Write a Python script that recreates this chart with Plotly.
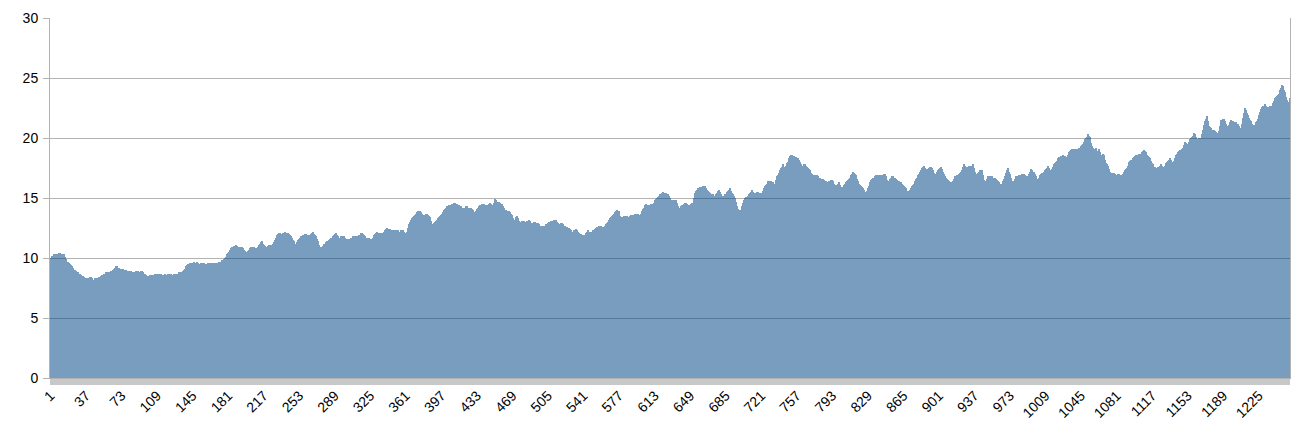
import plotly.graph_objects as go

values = [
9.8, 10.0, 10.2, 10.1, 10.3, 10.2, 10.3, 10.2, 10.3, 10.4, 10.4, 10.3, 10.2, 10.3, 10.3, 10.1, 9.9, 9.7, 9.7, 9.6,
9.5, 9.4, 9.3, 9.2, 9.0, 9.0, 8.9, 8.8, 8.8, 8.7, 8.7, 8.6, 8.5, 8.5, 8.4, 8.3, 8.2, 8.3, 8.2, 8.3,
8.4, 8.4, 8.3, 8.2, 8.2, 8.3, 8.2, 8.3, 8.3, 8.4, 8.4, 8.5, 8.6, 8.6, 8.7, 8.7, 8.8, 8.8, 8.7, 8.8,
8.8, 8.9, 8.9, 9.0, 9.1, 9.2, 9.3, 9.3, 9.2, 9.2, 9.1, 9.1, 9.0, 9.1, 9.0, 8.9, 9.0, 8.9, 8.9, 8.8,
8.9, 8.8, 8.9, 8.8, 8.7, 8.8, 8.8, 8.9, 8.8, 8.9, 8.8, 8.8, 8.9, 8.9, 8.8, 8.7, 8.7, 8.6, 8.5, 8.5,
8.5, 8.6, 8.6, 8.5, 8.6, 8.6, 8.7, 8.6, 8.7, 8.7, 8.6, 8.7, 8.7, 8.6, 8.6, 8.6, 8.7, 8.6, 8.6, 8.7,
8.7, 8.6, 8.7, 8.6, 8.6, 8.7, 8.6, 8.7, 8.7, 8.7, 8.8, 8.7, 8.8, 8.8, 8.9, 9.0, 9.1, 9.3, 9.4, 9.5,
9.5, 9.6, 9.5, 9.6, 9.6, 9.7, 9.6, 9.6, 9.7, 9.6, 9.5, 9.5, 9.6, 9.6, 9.5, 9.6, 9.6, 9.5, 9.5, 9.5,
9.6, 9.5, 9.6, 9.6, 9.6, 9.5, 9.6, 9.5, 9.6, 9.5, 9.6, 9.7, 9.7, 9.7, 9.8, 9.8, 9.9, 10.0, 10.1, 10.3,
10.4, 10.5, 10.7, 10.8, 10.9, 10.9, 11.0, 11.0, 11.1, 11.0, 10.9, 10.9, 10.9, 10.8, 10.9, 10.8, 10.7, 10.6, 10.5, 10.5,
10.6, 10.7, 10.8, 10.9, 10.9, 10.8, 10.9, 10.8, 10.7, 10.8, 10.9, 11.1, 11.2, 11.3, 11.4, 11.2, 11.1, 11.0, 10.9, 10.9,
11.0, 11.1, 11.1, 11.0, 11.1, 11.2, 11.3, 11.5, 11.7, 11.9, 12.0, 12.1, 12.1, 12.0, 12.0, 12.1, 12.0, 12.1, 12.2, 12.1,
12.0, 12.1, 12.0, 11.9, 11.8, 11.7, 11.5, 11.4, 11.2, 11.1, 11.3, 11.5, 11.6, 11.7, 11.8, 11.8, 11.9, 11.9, 12.0, 12.0,
11.9, 11.9, 11.8, 11.9, 12.0, 12.1, 12.2, 12.0, 11.9, 11.8, 11.6, 11.4, 11.1, 10.9, 10.8, 10.9, 11.0, 11.2, 11.2, 11.3,
11.4, 11.4, 11.5, 11.6, 11.7, 11.7, 11.8, 11.9, 12.0, 12.1, 11.9, 11.8, 11.7, 11.7, 11.8, 11.8, 11.7, 11.8, 11.7, 11.6,
11.6, 11.5, 11.6, 11.6, 11.7, 11.7, 11.8, 11.7, 11.8, 11.8, 11.7, 11.8, 11.9, 11.9, 12.0, 12.1, 12.1, 12.0, 11.9, 11.8,
11.7, 11.7, 11.6, 11.7, 11.6, 11.6, 11.5, 11.7, 11.9, 12.0, 12.1, 12.2, 12.1, 12.1, 12.0, 12.1, 12.0, 12.1, 12.2, 12.3,
12.4, 12.5, 12.4, 12.3, 12.4, 12.3, 12.3, 12.3, 12.2, 12.3, 12.3, 12.2, 12.3, 12.2, 12.2, 12.3, 12.2, 12.3, 12.2, 12.1,
12.0, 12.2, 12.5, 12.8, 13.0, 13.2, 13.3, 13.4, 13.5, 13.6, 13.7, 13.8, 13.9, 13.9, 13.9, 13.8, 13.7, 13.5, 13.6, 13.6,
13.7, 13.7, 13.6, 13.5, 13.4, 13.1, 12.8, 12.8, 12.9, 13.0, 13.1, 13.2, 13.2, 13.3, 13.4, 13.5, 13.6, 13.7, 13.8, 14.0,
14.1, 14.2, 14.3, 14.3, 14.4, 14.4, 14.4, 14.5, 14.5, 14.6, 14.6, 14.5, 14.5, 14.4, 14.4, 14.3, 14.3, 14.2, 14.1, 14.2,
14.2, 14.3, 14.3, 14.2, 14.2, 14.1, 14.2, 14.1, 14.0, 13.8, 13.7, 13.9, 14.1, 14.2, 14.3, 14.4, 14.4, 14.5, 14.5, 14.5,
14.4, 14.4, 14.3, 14.4, 14.5, 14.6, 14.5, 14.4, 14.3, 14.6, 14.9, 14.8, 14.7, 14.6, 14.7, 14.6, 14.5, 14.5, 14.3, 14.2,
14.0, 14.0, 13.9, 13.9, 13.9, 13.8, 13.7, 13.6, 13.3, 13.0, 13.2, 13.3, 13.4, 13.5, 13.3, 13.1, 12.9, 13.0, 13.1, 13.1,
13.1, 13.0, 13.0, 13.1, 13.1, 13.2, 13.1, 12.9, 12.8, 12.9, 13.0, 13.0, 12.9, 12.9, 12.9, 12.8, 12.7, 12.7, 12.6, 12.7,
12.7, 12.7, 12.8, 12.8, 12.9, 13.0, 13.0, 13.1, 13.1, 13.1, 13.2, 13.1, 13.2, 13.0, 12.9, 12.8, 12.8, 12.9, 12.9, 12.8,
12.7, 12.7, 12.6, 12.6, 12.5, 12.5, 12.4, 12.3, 12.1, 12.2, 12.3, 12.3, 12.4, 12.3, 12.2, 12.1, 12.0, 12.0, 11.9, 11.9,
11.8, 11.9, 12.1, 12.2, 12.3, 12.2, 12.1, 12.2, 12.2, 12.3, 12.3, 12.3, 12.4, 12.5, 12.6, 12.6, 12.7, 12.7, 12.7, 12.6,
12.6, 12.6, 12.7, 12.8, 12.9, 13.0, 13.2, 13.3, 13.4, 13.5, 13.6, 13.7, 13.8, 13.9, 14.0, 13.9, 13.9, 13.5, 13.3, 13.4,
13.4, 13.5, 13.5, 13.4, 13.5, 13.4, 13.4, 13.5, 13.6, 13.6, 13.5, 13.6, 13.7, 13.7, 13.6, 13.7, 13.6, 13.6, 13.7, 13.9,
14.1, 14.2, 14.4, 14.5, 14.4, 14.4, 14.3, 14.4, 14.5, 14.5, 14.5, 14.6, 14.8, 14.9, 15.0, 15.1, 15.2, 15.3, 15.3, 15.4,
15.5, 15.4, 15.4, 15.4, 15.3, 15.3, 15.2, 15.2, 15.0, 14.8, 14.7, 14.8, 14.8, 14.7, 14.8, 14.6, 14.3, 14.1, 14.2, 14.3,
14.4, 14.4, 14.5, 14.6, 14.6, 14.5, 14.4, 14.3, 14.4, 14.5, 14.6, 14.6, 15.0, 15.4, 15.6, 15.7, 15.8, 15.8, 15.9, 15.9,
15.9, 16.0, 16.0, 16.0, 15.8, 15.7, 15.6, 15.5, 15.4, 15.3, 15.2, 15.3, 15.2, 15.2, 15.3, 15.4, 15.6, 15.7, 15.5, 15.3,
15.1, 15.2, 15.2, 15.3, 15.3, 15.5, 15.6, 15.7, 15.8, 15.6, 15.4, 15.3, 15.2, 15.0, 14.7, 14.3, 14.1, 14.0, 13.9, 14.0,
14.3, 14.6, 14.8, 15.0, 15.1, 15.1, 15.2, 15.2, 15.3, 15.4, 15.5, 15.7, 15.5, 15.4, 15.3, 15.4, 15.5, 15.5, 15.4, 15.4,
15.4, 15.4, 15.6, 15.8, 16.0, 16.1, 16.2, 16.4, 16.4, 16.4, 16.4, 16.3, 16.3, 16.2, 16.2, 16.5, 16.8, 16.9, 17.1, 17.3,
17.5, 17.6, 17.8, 17.6, 17.5, 17.7, 17.9, 18.0, 18.3, 18.5, 18.6, 18.6, 18.5, 18.5, 18.4, 18.4, 18.3, 18.3, 18.2, 18.0,
17.8, 17.6, 17.7, 17.8, 17.8, 17.7, 17.6, 17.5, 17.4, 17.3, 17.1, 17.0, 16.9, 16.9, 16.9, 16.8, 16.9, 16.8, 16.7, 16.7,
16.6, 16.6, 16.6, 16.5, 16.5, 16.4, 16.4, 16.3, 16.3, 16.4, 16.4, 16.5, 16.5, 16.4, 16.2, 16.1, 16.0, 16.1, 16.2, 16.3,
16.1, 15.9, 15.7, 15.9, 16.1, 16.2, 16.3, 16.4, 16.5, 16.6, 16.7, 16.9, 17.0, 17.2, 17.1, 17.0, 16.9, 16.6, 16.4, 16.2,
16.1, 16.0, 15.9, 15.8, 15.7, 15.5, 15.4, 15.6, 15.8, 16.0, 16.3, 16.5, 16.6, 16.7, 16.7, 16.8, 16.9, 16.8, 16.9, 16.9,
16.9, 16.9, 16.8, 16.9, 17.0, 17.0, 16.8, 16.5, 16.2, 16.4, 16.6, 16.7, 16.8, 16.8, 16.7, 16.7, 16.6, 16.5, 16.4, 16.4,
16.3, 16.3, 16.2, 16.2, 16.1, 16.0, 15.9, 15.8, 15.6, 15.5, 15.6, 15.7, 15.8, 16.0, 16.1, 16.2, 16.4, 16.6, 16.7, 16.9,
17.0, 17.2, 17.3, 17.5, 17.6, 17.7, 17.5, 17.4, 17.3, 17.4, 17.5, 17.6, 17.6, 17.5, 17.3, 17.1, 16.9, 17.0, 17.2, 17.3,
17.4, 17.5, 17.6, 17.4, 17.2, 17.0, 16.8, 16.7, 16.6, 16.5, 16.4, 16.3, 16.3, 16.2, 16.4, 16.6, 16.8, 16.8, 16.9, 16.9,
17.0, 17.1, 17.2, 17.3, 17.6, 17.8, 17.7, 17.6, 17.6, 17.6, 17.7, 17.7, 17.6, 17.7, 17.8, 17.5, 17.2, 16.9, 17.0, 17.1,
17.2, 17.3, 17.2, 17.3, 17.3, 16.9, 16.5, 16.1, 16.4, 16.6, 16.8, 16.7, 16.8, 16.7, 16.8, 16.7, 16.6, 16.7, 16.6, 16.5,
16.4, 16.3, 16.2, 16.2, 16.1, 16.4, 16.6, 16.8, 17.1, 17.3, 17.5, 17.2, 17.0, 16.7, 16.4, 16.2, 16.4, 16.6, 16.8, 16.8,
16.8, 16.9, 16.9, 16.9, 17.0, 16.9, 17.0, 16.9, 16.8, 16.7, 16.8, 17.0, 17.2, 17.4, 17.3, 17.2, 17.2, 17.0, 16.8, 16.6,
16.5, 16.7, 16.9, 17.0, 17.1, 17.1, 17.2, 17.3, 17.4, 17.5, 17.7, 17.5, 17.3, 17.2, 17.4, 17.6, 17.8, 17.9, 18.0, 18.1,
18.2, 18.3, 18.4, 18.4, 18.5, 18.5, 18.6, 18.5, 18.5, 18.4, 18.4, 18.6, 18.8, 18.9, 19.0, 19.1, 19.0, 19.1, 19.1, 19.0,
19.1, 19.1, 19.2, 19.2, 19.3, 19.4, 19.5, 19.7, 19.9, 20.0, 20.1, 20.3, 20.2, 20.1, 19.6, 19.3, 19.2, 19.1, 19.1, 19.2,
18.7, 18.9, 19.1, 18.8, 18.6, 18.6, 18.7, 18.6, 18.2, 17.9, 17.8, 17.7, 17.4, 17.2, 17.1, 17.0, 17.1, 17.1, 17.0, 16.9,
16.9, 17.0, 17.0, 16.9, 16.9, 16.9, 17.0, 17.2, 17.3, 17.4, 17.5, 17.7, 18.0, 18.1, 18.2, 18.2, 18.3, 18.4, 18.5, 18.6,
18.6, 18.6, 18.6, 18.7, 18.7, 18.7, 18.8, 18.9, 19.0, 18.9, 18.8, 18.6, 18.5, 18.4, 18.3, 18.1, 17.9, 17.8, 17.6, 17.6,
17.5, 17.5, 17.6, 17.6, 17.7, 17.8, 17.7, 17.6, 17.5, 17.7, 17.9, 18.0, 18.1, 18.2, 18.3, 18.2, 18.0, 17.9, 18.1, 18.3,
18.6, 18.7, 18.8, 18.9, 19.0, 19.0, 19.1, 19.2, 19.4, 19.7, 19.6, 19.5, 19.5, 19.7, 19.9, 20.0, 20.1, 20.2, 20.4, 20.3,
20.1, 19.9, 19.9, 20.0, 20.0, 20.0, 20.3, 20.7, 21.1, 21.4, 21.6, 21.8, 21.4, 21.0, 20.9, 20.8, 20.7, 20.6, 20.7, 20.7,
20.6, 20.5, 20.4, 20.3, 20.6, 21.0, 21.5, 21.5, 21.6, 21.6, 21.4, 21.2, 21.0, 20.9, 21.1, 21.3, 21.5, 21.4, 21.4, 21.3,
21.3, 21.3, 21.2, 21.2, 21.0, 20.8, 20.7, 21.2, 21.7, 22.1, 22.5, 22.3, 22.1, 21.9, 21.7, 21.5, 21.4, 21.2, 21.1, 21.1,
21.1, 21.3, 21.4, 21.6, 21.9, 22.2, 22.4, 22.6, 22.7, 22.7, 22.8, 22.7, 22.6, 22.6, 22.6, 22.7, 22.6, 22.7, 22.9, 23.1,
23.3, 23.4, 23.5, 23.6, 23.7, 24.0, 24.2, 24.4, 24.3, 24.0, 23.8, 23.4, 23.2, 23.0, 22.8, 23.3,
]

categories = list(range(1, len(values) + 1))
tick_labels = [str(c) for c in categories if (c - 1) % 36 == 0]
tick_vals = [int(t) for t in tick_labels]
y_ticks = [0, 5, 10, 15, 20, 25, 30]

GRID = "#b3b3b3"
FONT = "Liberation Sans, Arial, sans-serif"

fig = go.Figure()
fig.add_trace(go.Bar(
    x=categories, y=values,
    marker=dict(color="#004586", line=dict(width=0)),
    opacity=0.52,
    showlegend=False, hoverinfo="x+y",
))

# page body has an 8px margin: figure is shifted by (8, 8)
fig.update_layout(
    width=1303, height=427,
    margin=dict(l=42, r=21, t=10, b=57),
    paper_bgcolor="white", plot_bgcolor="white",
    bargap=0,
    font=dict(family=FONT, size=14, color="black"),
)
fig.update_xaxes(
    type="linear", automargin=False,
    range=[0.5, len(values) + 0.5],
    tickmode="array", tickvals=tick_vals, ticktext=tick_labels,
    tickangle=-45, ticklabelstandoff=-3,
    ticks="outside", ticklen=6, tickcolor="#c8c8c8", tickwidth=1,
    minor=dict(ticks="outside", ticklen=6, tickcolor="#c8c8c8", tickwidth=0.6,
               dtick=1, tick0=1, showgrid=False),
    showgrid=False, zeroline=False,
    showline=True, linecolor=GRID, linewidth=1,
    tickfont=dict(family=FONT, size=14, color="black"),
)
fig.update_yaxes(
    range=[0, 30], automargin=False,
    tickmode="array", tickvals=y_ticks, ticklabelstandoff=2,
    ticks="outside", ticklen=6, tickcolor=GRID,
    showgrid=True, gridcolor=GRID, gridwidth=1,
    zeroline=False,
    showline=True, linecolor=GRID, linewidth=1, mirror=True,
    tickfont=dict(family=FONT, size=14, color="black"),
)

fig.write_html("out.html")
